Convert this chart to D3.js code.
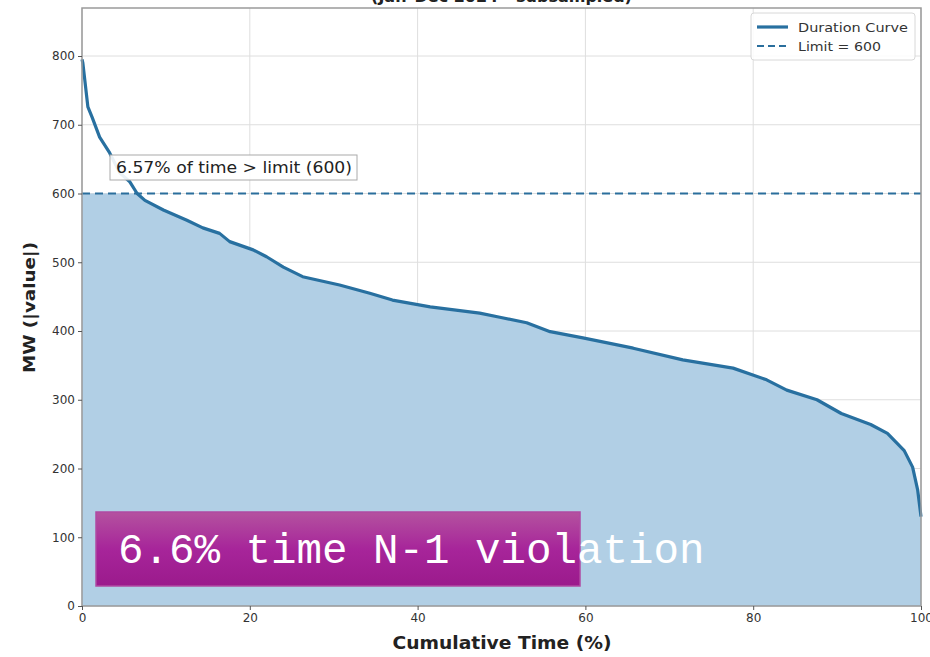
<!DOCTYPE html>
<html>
<head>
<meta charset="utf-8">
<script src="https://cdn.jsdelivr.net/npm/d3@7"></script>
<style>
  body { margin: 0; background: #fff; }
  text { font-family: "DejaVu Sans", sans-serif; }
</style>
</head>
<body>
<script>
// duration curve
var timePct = [0, 0.1, 0.7, 1.2, 2.1, 3.3, 4.5, 5.7, 6.57, 7.5, 9.7, 12.5, 14.4, 16.4, 17.6, 20.4, 22, 24, 26.3, 30.7,
  34.3, 37, 41.5, 47.4, 49.8, 53, 55.8, 59.7, 65.7, 71.6, 77.6, 81.6, 84, 87.6, 90.5, 94, 96, 98, 99, 99.6, 100];
var mwValues = [795, 790, 726, 711, 682, 659, 630, 617, 600, 590, 576, 561, 550, 542, 530, 518, 508, 493, 479, 467,
  455, 445, 435, 426, 420, 412, 399, 390, 375, 358, 346, 329, 314, 300, 280, 264, 251, 226, 202, 169, 130];
var limit = 600;
var xTicks = [0, 20, 40, 60, 80, 100];
var yTicks = [0, 100, 200, 300, 400, 500, 600, 700, 800];
var legendLabels = ["Duration Curve", "Limit = 600"];
var annotation = "6.57% of time > limit (600)";
var overlayText = "6.6% time N-1 violation";
var titleText = "(Jan\u2013Dec 2024 - subsampled)";

var margin = {top: 8, right: 9, bottom: 51, left: 82},
    width = 930 - margin.left - margin.right,
    height = 657 - margin.top - margin.bottom;

var data = timePct.map(function(t, i) { return {t: t, v: mwValues[i]}; });

// 800 sits at y=56 in the picture, frame top at 8
var x = d3.scaleLinear().domain([0, 100]).range([0, width]);
var y = d3.scaleLinear().domain([0, 800]).range([height, height - 800 * 0.6875]);

var svg = d3.select("body").append("svg")
    .attr("width", 930)
    .attr("height", 657);

var defs = svg.append("defs");
var grad = defs.append("linearGradient").attr("id", "purp")
    .attr("x1", 0).attr("y1", 0).attr("x2", 0).attr("y2", 1);
grad.append("stop").attr("offset", "0%").attr("stop-color", "#b4529f");
grad.append("stop").attr("offset", "50%").attr("stop-color", "#a7259a");
grad.append("stop").attr("offset", "100%").attr("stop-color", "#9b1a8c");

// title, mostly above the window
svg.append("text")
    .attr("x", margin.left + width / 2)
    .attr("y", 2)
    .attr("text-anchor", "middle")
    .style("font-size", "16px")
    .style("font-weight", "bold")
    .attr("fill", "#222")
    .text(titleText);

var g = svg.append("g")
    .attr("transform", "translate(" + margin.left + "," + margin.top + ")");

// grid
g.append("g").selectAll("line").data(xTicks).enter().append("line")
    .attr("x1", function(d) { return x(d); }).attr("x2", function(d) { return x(d); })
    .attr("y1", 0).attr("y2", height)
    .attr("stroke", "#dedede").attr("stroke-width", 1);
g.append("g").selectAll("line").data(yTicks).enter().append("line")
    .attr("x1", 0).attr("x2", width)
    .attr("y1", function(d) { return y(d); }).attr("y2", function(d) { return y(d); })
    .attr("stroke", "#dedede").attr("stroke-width", 1);

// fill below min(curve, limit)
var area = d3.area()
    .x(function(d) { return x(d.t); })
    .y0(y(0))
    .y1(function(d) { return y(Math.min(d.v, limit)); });
g.append("path").datum(data)
    .attr("d", area)
    .attr("fill", "#b1cfe5");

// limit line
g.append("line")
    .attr("x1", 0).attr("x2", width)
    .attr("y1", y(limit)).attr("y2", y(limit))
    .attr("stroke", "#2a6e9c")
    .attr("stroke-width", 2.2)
    .attr("stroke-dasharray", "8,5");

// duration curve
var line = d3.line()
    .x(function(d) { return x(d.t); })
    .y(function(d) { return y(d.v); });
g.append("path").datum(data)
    .attr("d", line)
    .attr("fill", "none")
    .attr("stroke", "#2870a0")
    .attr("stroke-width", 3.2)
    .attr("stroke-linejoin", "round");

// frame
g.append("rect")
    .attr("x", 0).attr("y", 0).attr("width", width).attr("height", height)
    .attr("fill", "none").attr("stroke", "#9a9a9a").attr("stroke-width", 1.5);

// axes
var xAxis = g.append("g")
    .attr("transform", "translate(0," + height + ")")
    .call(d3.axisBottom(x).tickValues(xTicks).tickSize(4).tickPadding(3));
var yAxis = g.append("g")
    .call(d3.axisLeft(y).tickValues(yTicks).tickSize(4).tickPadding(3));
[xAxis, yAxis].forEach(function(a) {
  a.select(".domain").remove();
  a.selectAll("line").attr("stroke", "#555");
  a.selectAll("text").attr("fill", "#333").style("font-size", "12px")
      .style("font-family", "DejaVu Sans, sans-serif");
});

svg.append("text")
    .attr("x", margin.left + width / 2 - 109).attr("y", 649)
    .attr("textLength", 219).attr("lengthAdjust", "spacingAndGlyphs")
    .style("font-size", "17px").style("font-weight", "bold")
    .attr("fill", "#222")
    .text("Cumulative Time (%)");

svg.append("text")
    .attr("transform", "translate(35,373) rotate(-90)")
    .attr("textLength", 131).attr("lengthAdjust", "spacingAndGlyphs")
    .style("font-size", "16px").style("font-weight", "bold")
    .attr("fill", "#222")
    .text("MW (|value|)");

// legend
var leg = svg.append("g").attr("transform", "translate(751,13)");
leg.append("rect").attr("width", 164).attr("height", 47)
    .attr("fill", "#fff").attr("fill-opacity", 0.85)
    .attr("stroke", "#d8d8d8").attr("rx", 3);
leg.append("line").attr("x1", 6).attr("x2", 37).attr("y1", 14).attr("y2", 14)
    .attr("stroke", "#2870a0").attr("stroke-width", 3.2);
leg.append("line").attr("x1", 6).attr("x2", 37).attr("y1", 33).attr("y2", 33)
    .attr("stroke", "#2a6e9c").attr("stroke-width", 2).attr("stroke-dasharray", "7,4");
leg.selectAll("text.lab").data(legendLabels).enter().append("text")
    .attr("class", "lab")
    .attr("x", 47).attr("y", function(d, i) { return 19 + i * 19; })
    .attr("textLength", function(d, i) { return i === 0 ? 110 : 83; })
    .attr("lengthAdjust", "spacingAndGlyphs")
    .style("font-size", "13px").attr("fill", "#333")
    .text(function(d) { return d; });

// annotation box
var ann = svg.append("g").attr("transform", "translate(110,155)");
ann.append("rect").attr("width", 247).attr("height", 25)
    .attr("fill", "#fff").attr("fill-opacity", 0.9)
    .attr("stroke", "#aaa").attr("stroke-width", 1);
ann.append("text").attr("x", 6).attr("y", 18)
    .attr("textLength", 236).attr("lengthAdjust", "spacingAndGlyphs")
    .style("font-size", "15px").attr("fill", "#222")
    .text(annotation);

// purple overlay
svg.append("rect")
    .attr("x", 96).attr("y", 512).attr("width", 484).attr("height", 74)
    .attr("fill", "url(#purp)")
    .attr("stroke", "#b04aa2").attr("stroke-width", 1.5);
svg.append("text")
    .attr("x", 118).attr("y", 563)
    .style("font-family", "Liberation Mono, monospace")
    .style("font-size", "42.5px")
    .attr("fill", "#fff")
    .text(overlayText);
</script>
</body>
</html>
